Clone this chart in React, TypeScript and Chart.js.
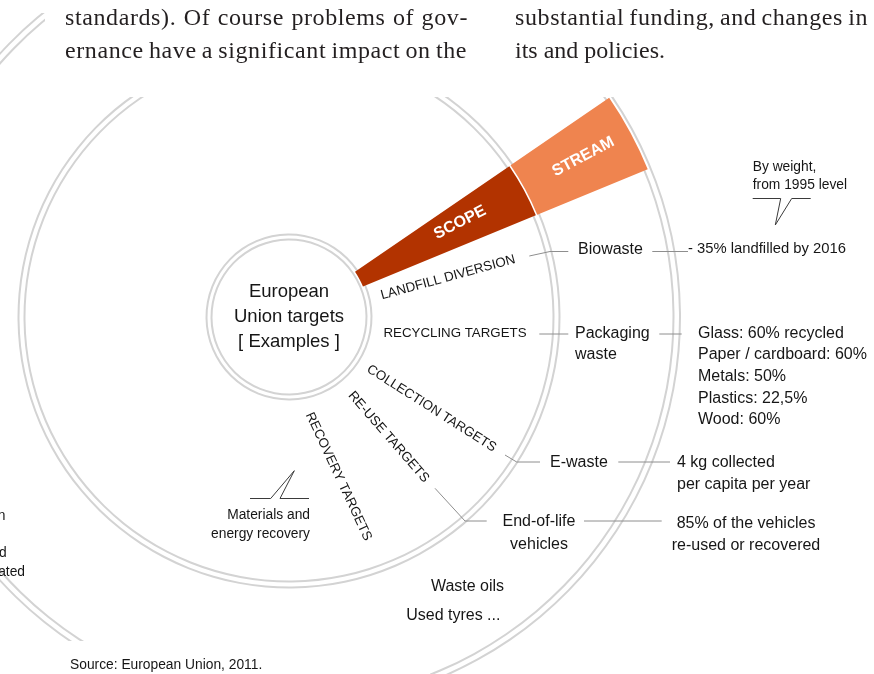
import React, { useEffect, useRef } from 'react';
import { Chart, registerables } from 'chart.js';

Chart.register(...registerables);

// ---------------- data ----------------
const wedgeLabels = ['SCOPE', 'STREAM'];
const highlightSweep = [12, 348]; // degrees: highlighted sector, remainder of the circle
const centreTitle = ['European', 'Union targets', '[ Examples ]'];
const targetTypes = ['LANDFILL DIVERSION', 'RECYCLING TARGETS', 'COLLECTION TARGETS', 'RE-USE TARGETS', 'RECOVERY TARGETS'];
const wasteStreams = [['Biowaste'], ['Packaging', 'waste'], ['E-waste'], ['End-of-life', 'vehicles']];
const streamTargets = [
  ['- 35% landfilled by 2016'],
  ['Glass: 60% recycled', 'Paper / cardboard: 60%', 'Metals: 50%', 'Plastics: 22,5%', 'Wood: 60%'],
  ['4 kg collected', 'per capita per year'],
  ['85% of the vehicles', 're-used or recovered'],
];
const otherStreams = ['Waste oils', 'Used tyres ...'];
const calloutNotes = [['By weight,', 'from 1995 level'], ['Materials and', 'energy recovery']];
const sourceNote = 'Source: European Union, 2011.';
const bodyLines = [
  'standards). Of course problems of gov-',
  'ernance have a significant impact on the',
  'substantial funding, and changes in',
  'its and policies.',
];
const edgeFragments = ['n', 'd', 'ated'];

// ---------------- layout ----------------
const W = 874, H = 674;
const CX = 289, CY = 317;
const WEDGE_TOP_DEG = 34.4;
const ringRadii = [391, 384.5, 270.5, 264.5, 82.5, 77.5];
const RING_COLOR = '#d3d3d3';
const SCOPE_COLOR = '#B23300';
const STREAM_COLOR = '#EF844F';
const CLEAR = 'rgba(0,0,0,0)';
const SANS = '"Liberation Sans", Arial, Helvetica, sans-serif';
const SERIF = '"Liberation Serif", "Times New Roman", serif';

const spokePos = [
  [448, 277.5, -15.3],
  [455, 333.3, 0],
  [431.5, 408.5, 32.5],
  [388.5, 437, 49],
  [338.5, 476.5, 65],
];
const streamPos = [
  { x: 578, ys: [249.3], align: 'left' },
  { x: 575, ys: [333.3, 355], align: 'left' },
  { x: 550, ys: [462.7], align: 'left' },
  { x: 539, ys: [521.7, 545], align: 'center' },
];
const targetPos = [
  { x: 688, ys: [249.3], align: 'left', size: 14.8 },
  { x: 698, ys: [333.3, 354.5, 376.7, 398.3, 420], align: 'left', size: 16 },
  { x: 677, ys: [462.7, 485], align: 'left', size: 16 },
  { x: 746, ys: [523.3, 546], align: 'center', size: 16 },
];
const otherPos = [[467.5, 586.7], [453.3, 616]];
const leaderLines = [
  [[529.3, 256], [550, 251.5], [568.3, 251.5]],
  [[652.3, 251.5], [688, 251.5]],
  [[539.3, 334], [568.3, 334]],
  [[659.3, 334], [681.7, 334]],
  [[505, 455], [516.7, 462], [540, 462]],
  [[618.3, 462], [670, 462]],
  [[435, 488.3], [465, 521], [486.7, 521]],
  [[584, 521], [661.7, 521]],
];
const calloutShapes = [
  [[752.7, 198.5], [780.7, 198.5], [775.3, 225], [791.7, 198.5], [810.7, 198.5]],
  [[250, 498.5], [270.7, 498.5], [294.3, 470.7], [280, 498.5], [309, 498.5]],
];
const calloutTextPos = [
  { x: 752.7, ys: [166.7, 185], align: 'left' },
  { x: 310, ys: [515, 534], align: 'right' },
];
const wedgeLabelPos = [[460, 222.5, -27], [583.3, 156.7, -28]];
const edgePos = [[5.5, 515.7], [6.7, 553.3], [25, 571.7]];

function txt(ctx: CanvasRenderingContext2D, s: string, x: number, y: number, size: number, opts: any = {}) {
  ctx.save();
  ctx.font = `${opts.bold ? 'bold ' : ''}${size}px ${opts.family || SANS}`;
  ctx.fillStyle = opts.color || '#161616';
  ctx.textAlign = opts.align || 'left';
  ctx.textBaseline = opts.baseline || 'middle';
  ctx.translate(x, y);
  if (opts.rot) ctx.rotate((opts.rot * Math.PI) / 180);
  ctx.fillText(s, 0, 0);
  ctx.restore();
}

function poly(ctx: CanvasRenderingContext2D, pts: number[][], color: string) {
  ctx.save();
  ctx.strokeStyle = color;
  ctx.lineWidth = 1;
  ctx.beginPath();
  pts.forEach((p, i) => (i ? ctx.lineTo(p[0], p[1]) : ctx.moveTo(p[0], p[1])));
  ctx.stroke();
  ctx.restore();
}

function justify(ctx: CanvasRenderingContext2D, text: string, x: number, y: number, w: number | null) {
  const c: any = ctx;
  if (w == null) {
    c.letterSpacing = '0px';
    ctx.fillText(text, x, y);
    return;
  }
  c.letterSpacing = '0.6px';
  const words = text.split(' ');
  const ws = words.map((t) => ctx.measureText(t).width);
  const total = ws.reduce((a, b) => a + b, 0);
  const gap = (w - total) / (words.length - 1);
  let cx = x;
  words.forEach((t, i) => {
    ctx.fillText(t, cx, y);
    cx += ws[i] + gap;
  });
  c.letterSpacing = '0px';
}

const decorPlugin = {
  id: 'decor',
  afterDraw(chart: any) {
    const ctx: CanvasRenderingContext2D = chart.ctx;
    ctx.save();
    // page masks
    ctx.fillStyle = '#ffffff';
    ctx.fillRect(45, 0, W - 45, 97);
    ctx.fillRect(0, 0, W, 13);
    ctx.fillRect(0, 641, 430, H - 641);

    // body text
    ctx.font = `24px ${SERIF}`;
    ctx.fillStyle = '#231f20';
    ctx.textBaseline = 'alphabetic';
    ctx.textAlign = 'left';
    justify(ctx, bodyLines[0], 65, 25, 403);
    justify(ctx, bodyLines[1], 65, 58, 402);
    justify(ctx, bodyLines[2], 515, 25, 353);
    justify(ctx, bodyLines[3], 515, 58, null);
    ctx.restore();

    // wedge labels
    wedgeLabels.forEach((s, i) => {
      const [x, y, r] = wedgeLabelPos[i];
      txt(ctx, s, x, y, 16, { bold: true, color: '#ffffff', align: 'center', rot: r });
    });

    // centre
    centreTitle.forEach((s, i) => txt(ctx, s, CX, 292 + i * 24.8, 18.5, { align: 'center' }));

    // spokes
    targetTypes.forEach((s, i) => {
      const [x, y, r] = spokePos[i];
      txt(ctx, s, x, y, 13.3, { align: 'center', rot: r });
    });

    // leader lines
    leaderLines.forEach((l) => poly(ctx, l, '#8e8e8e'));
    calloutShapes.forEach((l) => poly(ctx, l, '#3a3a3a'));

    // streams
    wasteStreams.forEach((lines, i) => {
      const p = streamPos[i];
      lines.forEach((s, j) => txt(ctx, s, p.x, p.ys[j], 16, { align: p.align }));
    });
    streamTargets.forEach((lines, i) => {
      const p = targetPos[i];
      lines.forEach((s, j) => txt(ctx, s, p.x, p.ys[j], p.size, { align: p.align }));
    });
    otherStreams.forEach((s, i) => txt(ctx, s, otherPos[i][0], otherPos[i][1], 16, { align: 'center' }));

    calloutNotes.forEach((lines, i) => {
      const p = calloutTextPos[i];
      lines.forEach((s, j) => txt(ctx, s, p.x, p.ys[j], 13.8, { align: p.align }));
    });

    edgeFragments.forEach((s, i) => txt(ctx, s, edgePos[i][0], edgePos[i][1], 13.8, { align: 'right' }));
    txt(ctx, sourceNote, 70, 665, 13.8);
  },
};

function ringBands() {
  const bands: { w: number; c: string }[] = [];
  let prev = ringRadii[0] + 1;
  ringRadii.forEach((r) => {
    const top = r + 1;
    if (prev > top) bands.push({ w: prev - top, c: CLEAR });
    bands.push({ w: 2, c: RING_COLOR });
    prev = r - 1;
  });
  return { bands, outer: ringRadii[0] + 1, inner: prev };
}

const baseOptions = (radius: number, inner: number, extraPlugins: any = {}) => ({
  responsive: false,
  animation: false as const,
  events: [],
  radius,
  cutout: `${(inner / radius) * 100}%`,
  rotation: 90 - WEDGE_TOP_DEG,
  layout: { padding: { left: 0, top: 0, right: W - 2 * CX, bottom: H - 2 * CY } },
  plugins: { legend: { display: false }, tooltip: { enabled: false }, ...extraPlugins },
});

export default function App() {
  const ringRef = useRef<HTMLCanvasElement>(null);
  const wedgeRef = useRef<HTMLCanvasElement>(null);

  useEffect(() => {
    const rb = ringBands();
    const ringChart = new Chart(ringRef.current as HTMLCanvasElement, {
      type: 'doughnut',
      data: {
        labels: ['ring'],
        datasets: rb.bands.map((b) => ({
          data: [360],
          backgroundColor: [b.c],
          borderWidth: 0,
          weight: b.w,
          clip: false as any,
        })),
      },
      options: baseOptions(rb.outer, rb.inner) as any,
    });

    const stream = { outer: 388, inner: 268.5 };
    const scope = { outer: 267, inner: 80 };
    const wedgeChart = new Chart(wedgeRef.current as HTMLCanvasElement, {
      type: 'doughnut',
      data: {
        labels: ['highlight', 'rest'],
        datasets: [
          { data: highlightSweep, backgroundColor: [STREAM_COLOR, CLEAR], borderWidth: 0, weight: stream.outer - stream.inner, clip: false as any },
          { data: highlightSweep, backgroundColor: [CLEAR, CLEAR], borderWidth: 0, weight: stream.inner - scope.outer, clip: false as any },
          { data: highlightSweep, backgroundColor: [SCOPE_COLOR, CLEAR], borderWidth: 0, weight: scope.outer - scope.inner, clip: false as any },
        ],
      },
      options: baseOptions(stream.outer, scope.inner) as any,
      plugins: [decorPlugin],
    });

    return () => {
      ringChart.destroy();
      wedgeChart.destroy();
    };
  }, []);

  const cs: React.CSSProperties = { position: 'absolute', left: 0, top: 0, width: W, height: H };
  return (
    <div style={{ position: 'absolute', left: 0, top: 0, width: W, height: H, background: '#ffffff', overflow: 'hidden' }}>
      <canvas ref={ringRef} width={W} height={H} style={cs} />
      <canvas ref={wedgeRef} width={W} height={H} style={cs} />
    </div>
  );
}
